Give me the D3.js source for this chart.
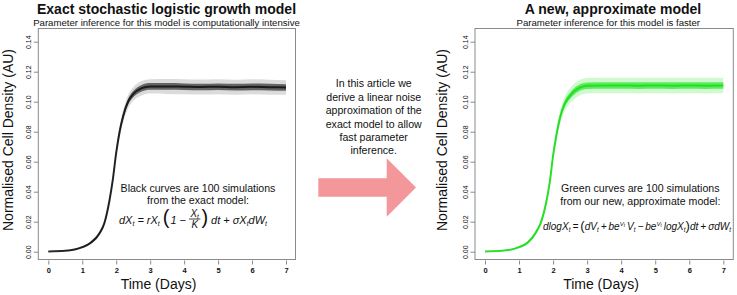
<!DOCTYPE html>
<html><head><meta charset="utf-8">
<script src="https://cdn.jsdelivr.net/npm/d3@7"></script>
<style>
body{margin:0;background:#fff}
svg{display:block}
text{font-family:"Liberation Sans",Arial,Helvetica,sans-serif;fill:#111}
text.m{white-space:pre}
</style>
</head><body>
<svg id="c" width="737" height="295"></svg>
<script>
// ---------- data ----------
const days        = [0, 0.5, 1, 1.25, 1.5, 1.65, 1.8, 1.9, 2.0, 2.1, 2.2, 2.35, 2.5, 2.75, 3, 3.5, 4, 4.5, 5, 5.5, 6, 6.5, 7];
const blackMean   = [0.0002,0.0006,0.003,0.006,0.012,0.019,0.034,0.048,0.066,0.080,0.090,0.100,0.105,0.109,0.1102,0.1102,0.1100,0.1098,0.1100,0.1097,0.1099,0.1097,0.1095];
const blackCore   = [0.0001,0.0002,0.0004,0.0006,0.0008,0.001,0.0013,0.0016,0.0018,0.0019,0.002,0.002,0.0021,0.0022,0.0022,0.0022,0.0022,0.0022,0.0022,0.0022,0.0022,0.0022,0.0022];
const blackSpread = [0.0002,0.0004,0.0008,0.0012,0.0016,0.002,0.0026,0.003,0.0035,0.004,0.0042,0.0045,0.0046,0.0048,0.0048,0.005,0.005,0.005,0.005,0.005,0.005,0.005,0.0048];
const greenMean   = [0.0002,0.0006,0.003,0.006,0.013,0.020,0.033,0.046,0.064,0.078,0.089,0.099,0.104,0.109,0.1106,0.1108,0.1108,0.1107,0.1108,0.1107,0.1108,0.1107,0.1108];
const greenCore   = [0.0001,0.0002,0.0004,0.0006,0.0009,0.0012,0.0015,0.0018,0.002,0.0021,0.0022,0.0022,0.0022,0.0022,0.0022,0.0022,0.0022,0.0022,0.0022,0.0022,0.0022,0.0022,0.0022];
const greenSpread = [0.0002,0.0004,0.0008,0.0012,0.0016,0.002,0.0026,0.003,0.0036,0.0042,0.0046,0.005,0.0052,0.0052,0.0052,0.0052,0.0052,0.0052,0.0052,0.0052,0.0052,0.0052,0.0052];
const xTicks      = [0, 1, 2, 3, 4, 5, 6, 7];
const yTicks      = [0, 0.02, 0.04, 0.06, 0.08, 0.10, 0.12, 0.14];
const yTickLabels = ["0.00","0.02","0.04","0.06","0.08","0.10","0.12","0.14"];
const titles      = ["Exact stochastic logistic growth model", "A new, approximate model"];
const subtitles   = ["Parameter inference for this model is computationally intensive", "Parameter inference for this model is faster"];
const notes       = [["Black curves are 100 simulations","from the exact model:"],["Green curves are 100 simulations","from our new, approximate model:"]];
const middleText  = ["In this article we","derive a linear noise","approximation of the","exact model to allow","fast parameter","inference."];
const xTitle = "Time (Days)";
const yTitle = "Normalised Cell Density (AU)";

// ---------- layout ----------
const svg = d3.select("#c");
const panels = [
  {box:[38.3,28.5,295.5,259.5], x0:48.3, x7:286.0, mean:blackMean, core:blackCore, spread:blackSpread,
   line:"#0d0d0d", lineOp:0.85, coreFill:"#333", outFill:"#9a9a9a", titleX:166.5, subX:166.5, xTitleX:158.5, yTitleX:13, noteX:198, noteY:[192,203.8]},
  {box:[475.0,28.5,733.3,259.5], x0:485.0, x7:723.3, mean:greenMean, core:greenCore, spread:greenSpread,
   line:"#1fdc1f", lineOp:0.9, coreFill:"#2ee62e", outFill:"#7cf07c", titleX:613, subX:608.3, xTitleX:601, yTitleX:446.5, noteX:640.3, noteY:[192.3,205]}
];

const defs = svg.append("defs");
defs.append("filter").attr("id","soft").append("feGaussianBlur").attr("stdDeviation",0.6);

const y = d3.scaleLinear().domain([0,0.14]).range([251.7,41.7]);

panels.forEach((p,i)=>{
  const x = d3.scaleLinear().domain([0,7]).range([p.x0,p.x7]);
  const g = svg.append("g");
  const [bx0,by0,bx1,by1] = p.box;

  const pts = days.map((d,k)=>({d, m:p.mean[k], c:p.core[k], s:p.spread[k]}));
  const areaOut = d3.area().x(d=>x(d.d)).y0(d=>y(d.m-d.s)).y1(d=>y(d.m+d.s)).curve(d3.curveMonotoneX);
  const areaCore = d3.area().x(d=>x(d.d)).y0(d=>y(d.m-d.c)).y1(d=>y(d.m+d.c)).curve(d3.curveMonotoneX);
  const line = d3.line().x(d=>x(d.d)).y(d=>y(d.m)).curve(d3.curveMonotoneX);

  g.append("path").datum(pts).attr("d",areaOut).attr("fill",p.outFill).attr("opacity",0.35).attr("filter","url(#soft)");
  g.append("path").datum(pts).attr("d",areaCore).attr("fill",p.coreFill).attr("opacity",0.7).attr("filter","url(#soft)");
  g.append("path").datum(pts).attr("d",line).attr("fill","none").attr("stroke",p.line).attr("stroke-width",2)
    .attr("opacity",p.lineOp);

  // box
  g.append("rect").attr("x",bx0).attr("y",by0).attr("width",bx1-bx0).attr("height",by1-by0)
    .attr("fill","none").attr("stroke","#8a8a8a").attr("stroke-width",1);

  // x axis (ticks only, R style)
  const xa = g.append("g").attr("transform",`translate(0,${by1+1})`)
    .call(d3.axisBottom(x).tickValues(xTicks).tickSize(4).tickPadding(3.5).tickFormat(d3.format("d")));
  xa.select(".domain").remove();
  xa.selectAll("line").attr("stroke","#8a8a8a");
  xa.selectAll("text").attr("font-size",7.5).attr("font-weight","bold").attr("fill","#222")
    .style("font-family","'Liberation Sans',Arial,sans-serif");

  // y axis
  const ya = g.append("g").attr("transform",`translate(${bx0},0)`)
    .call(d3.axisLeft(y).tickValues(yTicks).tickSize(4.5).tickFormat((d,k)=>yTickLabels[k]));
  ya.select(".domain").remove();
  ya.selectAll("line").attr("stroke","#8a8a8a");
  ya.selectAll("text").attr("font-size",7).attr("fill","#222")
    .style("font-family","'Liberation Sans',Arial,sans-serif")
    .attr("transform","rotate(-90)").attr("x",0).attr("y",-7).attr("dy",0)
    .attr("text-anchor","middle");

  // titles
  svg.append("text").attr("x",p.titleX).attr("y",14.3).attr("text-anchor","middle")
    .attr("font-size",14).attr("font-weight","bold").text(titles[i]);
  svg.append("text").attr("x",p.subX).attr("y",25.6).attr("text-anchor","middle")
    .attr("font-size",9.6).text(subtitles[i]);
  svg.append("text").attr("x",p.xTitleX).attr("y",289).attr("text-anchor","middle")
    .attr("font-size",14).text(xTitle);
  svg.append("text").attr("transform",`translate(${p.yTitleX},140) rotate(-90)`).attr("text-anchor","middle")
    .attr("font-size",14).text(yTitle);

  notes[i].forEach((t,k)=>{
    svg.append("text").attr("x",p.noteX).attr("y",p.noteY[k]).attr("text-anchor","middle")
      .attr("font-size",10.6).text(t);
  });
});

// ---------- equations ----------
function row(g, x0, base, items){
  let cx = x0;
  items.forEach(it=>{
    cx += (it.dx||0);
    if (it.frac){
      const fg = g.append("g");
      const nw = row(fg, 0, base + it.frac.numDy, it.frac.num);
      const dg = g.append("g");
      const dw = row(dg, 0, base + it.frac.denDy, it.frac.den);
      const w = Math.max(nw,dw) + 3;
      fg.attr("transform",`translate(${cx + (w-nw)/2},0)`);
      dg.attr("transform",`translate(${cx + (w-dw)/2},0)`);
      g.append("line").attr("x1",cx).attr("x2",cx+w).attr("y1",base+it.frac.lineDy).attr("y2",base+it.frac.lineDy)
        .attr("stroke","#111").attr("stroke-width",0.8);
      cx += w;
      return;
    }
    const el = g.append("text").attr("class","m").attr("x",cx).attr("y",base+(it.dy||0))
      .attr("font-size",it.s).attr("font-style",it.n?"normal":"italic").text(it.t);
    cx += el.node().getComputedTextLength();
  });
  return cx - x0;
}
function equation(cxCenter, base, items, targetW){
  const g = svg.append("g");
  const w = row(g, 0, base, items);
  const k = targetW ? targetW / w : 1;
  g.attr("transform",`translate(${cxCenter - w*k/2},0) scale(${k},1)`);
}

const S = 11, sb = 7;
equation(193, 224, [
  {t:"dX", s:S},{t:"t", s:sb, dy:2.5},
  {t:" = rX", s:S},{t:"t", s:sb, dy:2.5},
  {t:"(", s:20, n:true, dx:3, dy:0.5},
  {t:"1 \u2212 ", s:S, dx:1},
  {frac:{num:[{t:"X",s:10},{t:"t",s:6.5,dy:2.2}], den:[{t:"K",s:10}], numDy:-7.3, denDy:4, lineDy:-5}},
  {t:")", s:20, n:true, dx:1, dy:0.5},
  {t:" dt + \u03C3X", s:S},{t:"t", s:sb, dy:2.5},
  {t:"dW", s:S},{t:"t", s:sb, dy:2.5}
], 148);

const T = 10.3, tb = 6.5, th = "\u2009";
equation(637, 230, [
  {t:"dlogX", s:T},{t:"t", s:tb, dy:2.3},
  {t:th+"="+th, s:T},
  {t:"(", s:13.5, n:true},
  {t:"dV", s:T},{t:"t", s:tb, dy:2.3},
  {t:th+"+"+th+"be", s:T},{t:"V", s:6.2, dy:-4.2},{t:"t", s:4.6, dy:-2.9},
  {t:th+"V", s:T},{t:"t", s:tb, dy:2.3},
  {t:th+"\u2212"+th+"be", s:T},{t:"V", s:6.2, dy:-4.2},{t:"t", s:4.6, dy:-2.9},
  {t:th+"logX", s:T},{t:"t", s:tb, dy:2.3},
  {t:")", s:13.5, n:true},
  {t:"dt"+th+"+"+th+"\u03C3dW", s:T},{t:"t", s:tb, dy:2.3}
], 188);

// ---------- middle text and arrow ----------
middleText.forEach((t,k)=>{
  svg.append("text").attr("x",373.7).attr("y",87.3 + k*13.4).attr("text-anchor","middle")
    .attr("font-size",10.6).text(t);
});
svg.append("path")
  .attr("d","M318.3,178.3 L386.7,178.3 L386.7,158.3 L416,187.5 L386.7,216.7 L386.7,196.7 L318.3,196.7 Z")
  .attr("fill","#f4979b");
</script>
</body></html>
